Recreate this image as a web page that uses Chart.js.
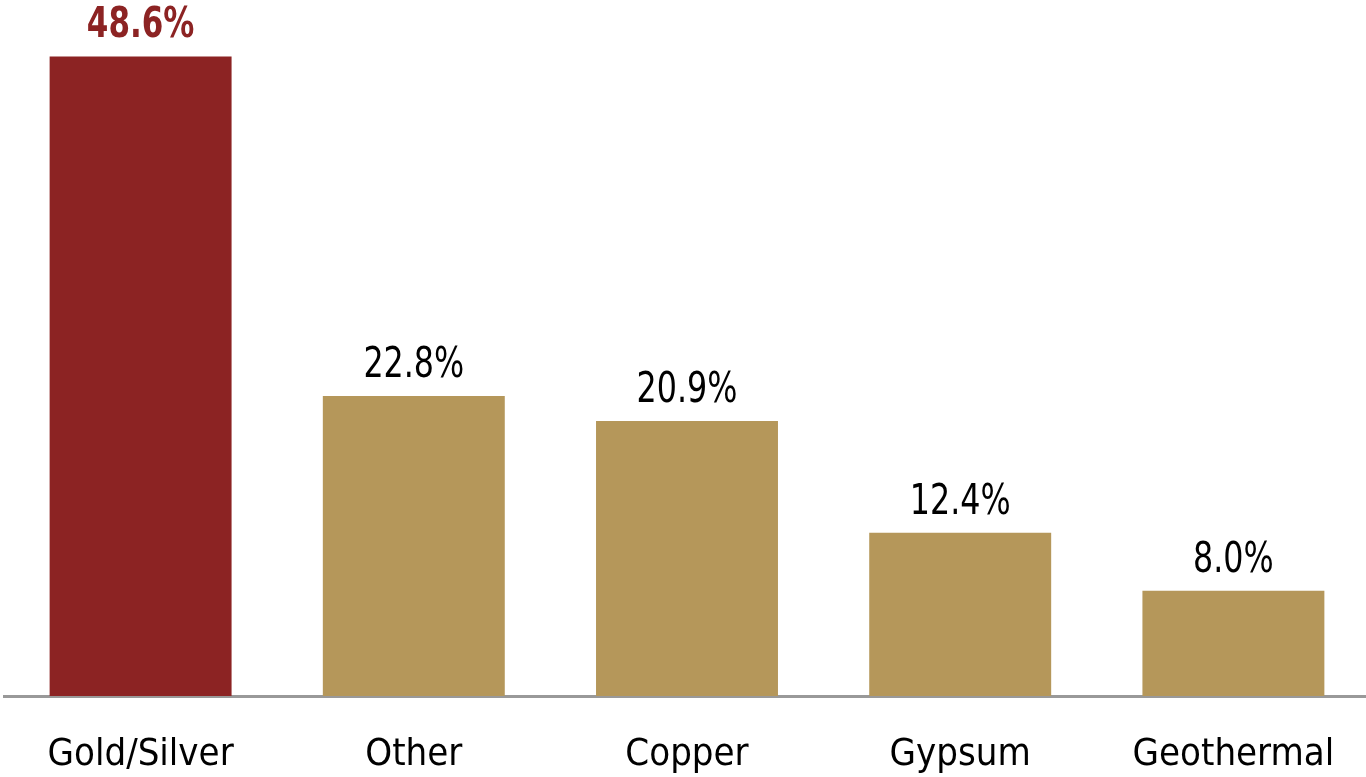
<!DOCTYPE html>
<html lang="en">
<head>
    <meta charset="UTF-8">
    <title>Share by commodity</title>
    <script src="https://cdn.jsdelivr.net/npm/chart.js"></script>
    <style>
        html, body { margin: 0; padding: 0; background: #fff; overflow: hidden; }
        #wrap { width: 1370px; height: 777px; }
    </style>
</head>
<body>
    <div id="wrap"><canvas id="shareChart"></canvas></div>

    <script>
        const categories = ['Gold/Silver', 'Other', 'Copper', 'Gypsum', 'Geothermal'];
        const shares = [48.6, 22.8, 20.9, 12.4, 8.0];
        const barColors = ['#8C2323', '#B5975A', '#B5975A', '#B5975A', '#B5975A'];
        const labelColors = ['#8C2323', '#000000', '#000000', '#000000', '#000000'];

        const FONT = '"Liberation Sans Narrow", "DejaVu Sans Condensed", "Roboto Condensed", sans-serif';

        // values above the bars (squeezed a bit to look condensed)
        const valueLabels = {
            id: 'valueLabels',
            afterDatasetsDraw(chart) {
                const ctx = chart.ctx;
                const meta = chart.getDatasetMeta(0);
                const sx = 0.84;
                meta.data.forEach((bar, i) => {
                    ctx.save();
                    ctx.textAlign = 'center';
                    ctx.textBaseline = 'alphabetic';
                    ctx.font = (i === 0 ? 'bold ' : '') + '42px ' + FONT;
                    ctx.fillStyle = labelColors[i];
                    ctx.translate(bar.x, bar.y - 19);
                    ctx.scale(i === 0 ? 0.82 : sx, 1);
                    ctx.fillText(shares[i].toFixed(1) + '%', 0, 0);
                    ctx.restore();
                });
            }
        };

        const ctx = document.getElementById('shareChart').getContext('2d');
        new Chart(ctx, {
            type: 'bar',
            data: {
                labels: categories,
                datasets: [{
                    data: shares,
                    backgroundColor: barColors,
                    barPercentage: 0.666,
                    categoryPercentage: 1
                }]
            },
            options: {
                responsive: true,
                maintainAspectRatio: false,
                animation: false,
                layout: { padding: { top: 38, left: 4, right: 0, bottom: 0 } },
                plugins: {
                    legend: { display: false },
                    tooltip: { enabled: false }
                },
                scales: {
                    x: {
                        grid: { display: false },
                        border: { display: true, color: '#999999', width: 3 },
                        ticks: {
                            color: '#000',
                            font: { family: FONT, size: 38 },
                            padding: 28,
                            maxRotation: 0
                        },
                        afterFit(scale) { scale.height = 81; }
                    },
                    y: {
                        display: false,
                        min: 0,
                        max: 50
                    }
                }
            },
            plugins: [valueLabels]
        });
    </script>
</body>
</html>
